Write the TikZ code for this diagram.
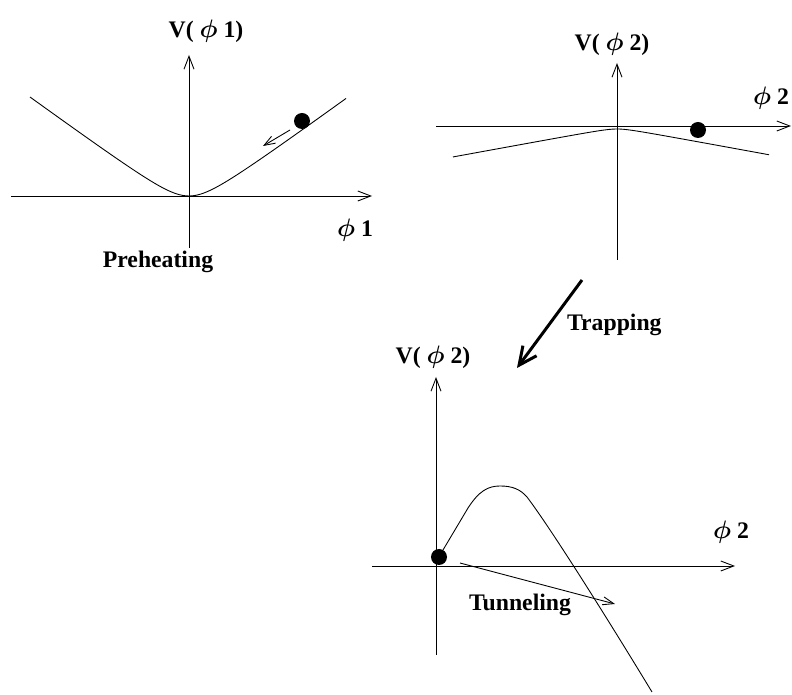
\documentclass[tikz,border=0pt]{standalone}
\usepackage{amsmath,amssymb}
\usepackage{fontspec}
\setmainfont{Liberation Serif}
\usepackage{tikz}
\usetikzlibrary{arrows.meta,positioning}

\begin{document}
\begin{tikzpicture}[x=0.02cm,y=-0.02cm]
\tikzstyle{axis}=[-{Straight Barb[length=0.26cm,width=0.2cm]}, line width=0.5pt]
\tikzstyle{move}=[-{Straight Barb[length=0.22cm,width=0.16cm]}, line width=0.5pt]
\tikzstyle{ball}=[circle, fill=black, inner sep=0pt, minimum size=0.32cm]
\tikzstyle{lbl}=[font=\fontsize{13.5}{16}\selectfont\bfseries\boldmath, inner sep=1pt]
\tikzstyle{curve}=[line width=0.5pt]

\useasboundingbox (0,0) rectangle (792,695);

\coordinate (xa1) at (11,196);
\coordinate (xb1) at (372,196);
\coordinate (ya1) at (189,248);
\coordinate (yb1) at (189,55);
\draw[axis] (xa1) -- (xb1);
\draw[axis] (ya1) -- (yb1);
\draw[curve] plot[domain=-159:157, samples=90, smooth] ({189+\x},{196-18.2*(sqrt(1+(\x/25)^2)-1)});
\node[ball] (b1) at (302,121) {};
\coordinate (r1s) at (290,130);
\coordinate (r1e) at (263,146);
\draw[move] (r1s) -- (r1e);
\node[lbl] (v1) at (206,31) {V( $\phi$ 1)};
\node[lbl] (phi1) at (355,230) {$\phi$ 1};
\node[lbl] (pre) at (158,262) {Preheating};

\coordinate (xa2) at (436,126);
\coordinate (xb2) at (791,126);
\coordinate (ya2) at (617,260);
\coordinate (yb2) at (617,63);
\draw[axis] (xa2) -- (xb2);
\draw[axis] (ya2) -- (yb2);
\draw[curve] plot[domain=-164:152, samples=90, smooth] ({617+\x},{129+2.2*(sqrt(1+(\x/12)^2)-1)});
\node[ball] (b2) at (698,130) {};
\node[lbl] (v2) at (612,44) {V( $\phi$ 2)};
\node[lbl, anchor=east] (phi2) at (791,98) {$\phi$ 2};

\coordinate (trs) at (582,280);
\coordinate (tre) at (517,368);
\draw[line width=1.7pt, -{Straight Barb[length=0.36cm,width=0.34cm]}] (trs) -- (tre);
\node[lbl, anchor=west] (trap) at (565,325) {Trapping};

\coordinate (xa3) at (372,566);
\coordinate (xb3) at (735,566);
\coordinate (ya3) at (436,655);
\coordinate (yb3) at (436,377);
\draw[axis] (xa3) -- (xb3);
\draw[axis] (ya3) -- (yb3);
\draw[curve] (443,550) -- (468,508) .. controls (479,491) and (488,486) .. (500,486)
  .. controls (512,486) and (520,489) .. (527,497) .. controls (552,530) and (612,626) .. (652,692);
\node[ball] (b3) at (439,557) {};
\coordinate (tus) at (460,563);
\coordinate (tue) at (615,604);
\draw[move] (tus) -- (tue);
\node[lbl] (v3) at (433,357) {V( $\phi$ 2)};
\node[lbl] (phi3) at (731,532) {$\phi$ 2};
\node[lbl] (tun) at (520,605) {Tunneling};
\end{tikzpicture}
\end{document}
